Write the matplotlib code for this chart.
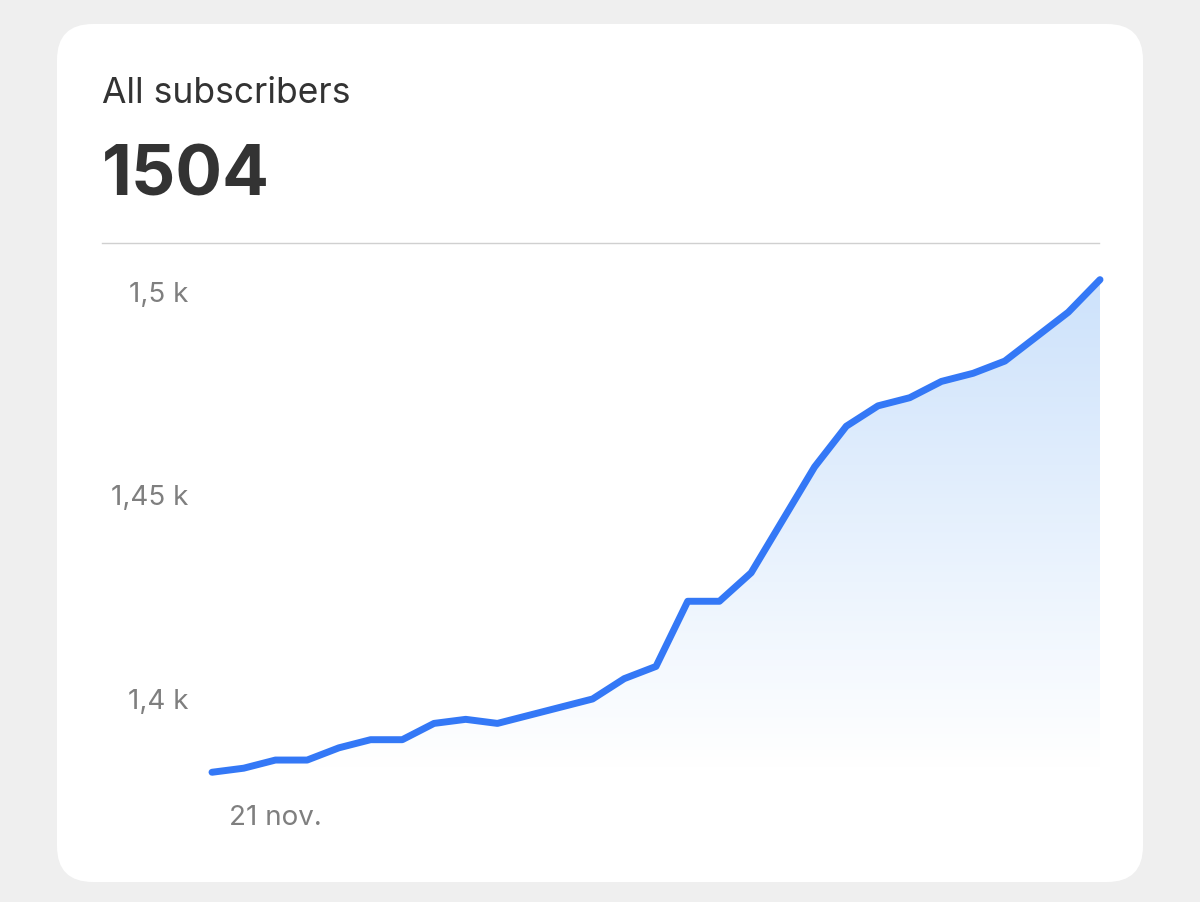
import numpy as np
import matplotlib.pyplot as plt
from matplotlib.patches import FancyBboxPatch

plt.rcParams['font.family'] = ['Inter', 'DejaVu Sans']

# daily subscriber counts
subscribers = [1382, 1383, 1385, 1385, 1388, 1390, 1390, 1394, 1395, 1394,
               1396, 1398, 1400, 1405, 1408, 1424, 1424, 1431, 1444, 1457,
               1467, 1472, 1474, 1478, 1480, 1483, 1489, 1495, 1503]
yticks = [1400, 1450, 1500]
ytick_labels = ["1,4 k", "1,45 k", "1,5 k"]
first_day = "21 nov."

W, H = 1200, 902
fig = plt.figure(figsize=(W / 100, H / 100), dpi=100, facecolor="#efefef")

card = FancyBboxPatch((57 / W, 1 - 882 / H), (1143 - 57) / W, (882 - 24) / H,
                      boxstyle="round,pad=0,rounding_size=0.03",
                      transform=fig.transFigure, facecolor="white",
                      edgecolor="none", mutation_aspect=W / H, zorder=-5)
fig.patches.append(card)

fig.text(102 / W, 1 - 103 / H, "All subscribers", fontsize=25.5, color="#333333")
fig.text(102 / W, 1 - 196 / H, str(subscribers[-1] + 1), fontsize=50,
         fontweight="bold", color="#333333")
fig.add_artist(plt.Line2D([102 / W, 1099 / W], [1 - 243 / H] * 2,
                          color="#d0d0d0", lw=1))

ax = fig.add_axes([212 / W, 1 - 780 / H, (1100 - 212) / W, (780 - 243) / H])
ax.set_facecolor("none")
x = np.arange(len(subscribers))
ylo, yhi = 1380.1, 1512.0
ax.set_xlim(0, len(subscribers) - 1)
ax.set_ylim(ylo, yhi)

# gradient under the line
grad = np.linspace(1, 0, 256).reshape(-1, 1)
cmap = plt.matplotlib.colors.LinearSegmentedColormap.from_list(
    "g", ["#ffffff", "#cde2fb"])
poly = ax.fill_between(x, subscribers, ylo + 3, color="none")
img = ax.imshow(grad, cmap=cmap, aspect="auto",
                extent=[0, len(subscribers) - 1, ylo + 3, max(subscribers)],
                origin="upper", zorder=1)
img.set_clip_path(poly.get_paths()[0], transform=ax.transData)
ax.plot(x, subscribers, color="#3478f6", lw=5, solid_capstyle="round",
        solid_joinstyle="round", zorder=3, clip_on=False)

for sp in ax.spines.values():
    sp.set_visible(False)
ax.set_xticks([])
ax.set_yticks(yticks)
ax.set_yticklabels(ytick_labels, fontsize=20, color="#7f7f7f")
ax.tick_params(axis="y", length=0, pad=17)
fig.text(275 / W, 1 - 818 / H, first_day, fontsize=20, color="#7f7f7f",
         ha="center", va="center")

fig.savefig("out.png", dpi=100, facecolor=fig.get_facecolor())
